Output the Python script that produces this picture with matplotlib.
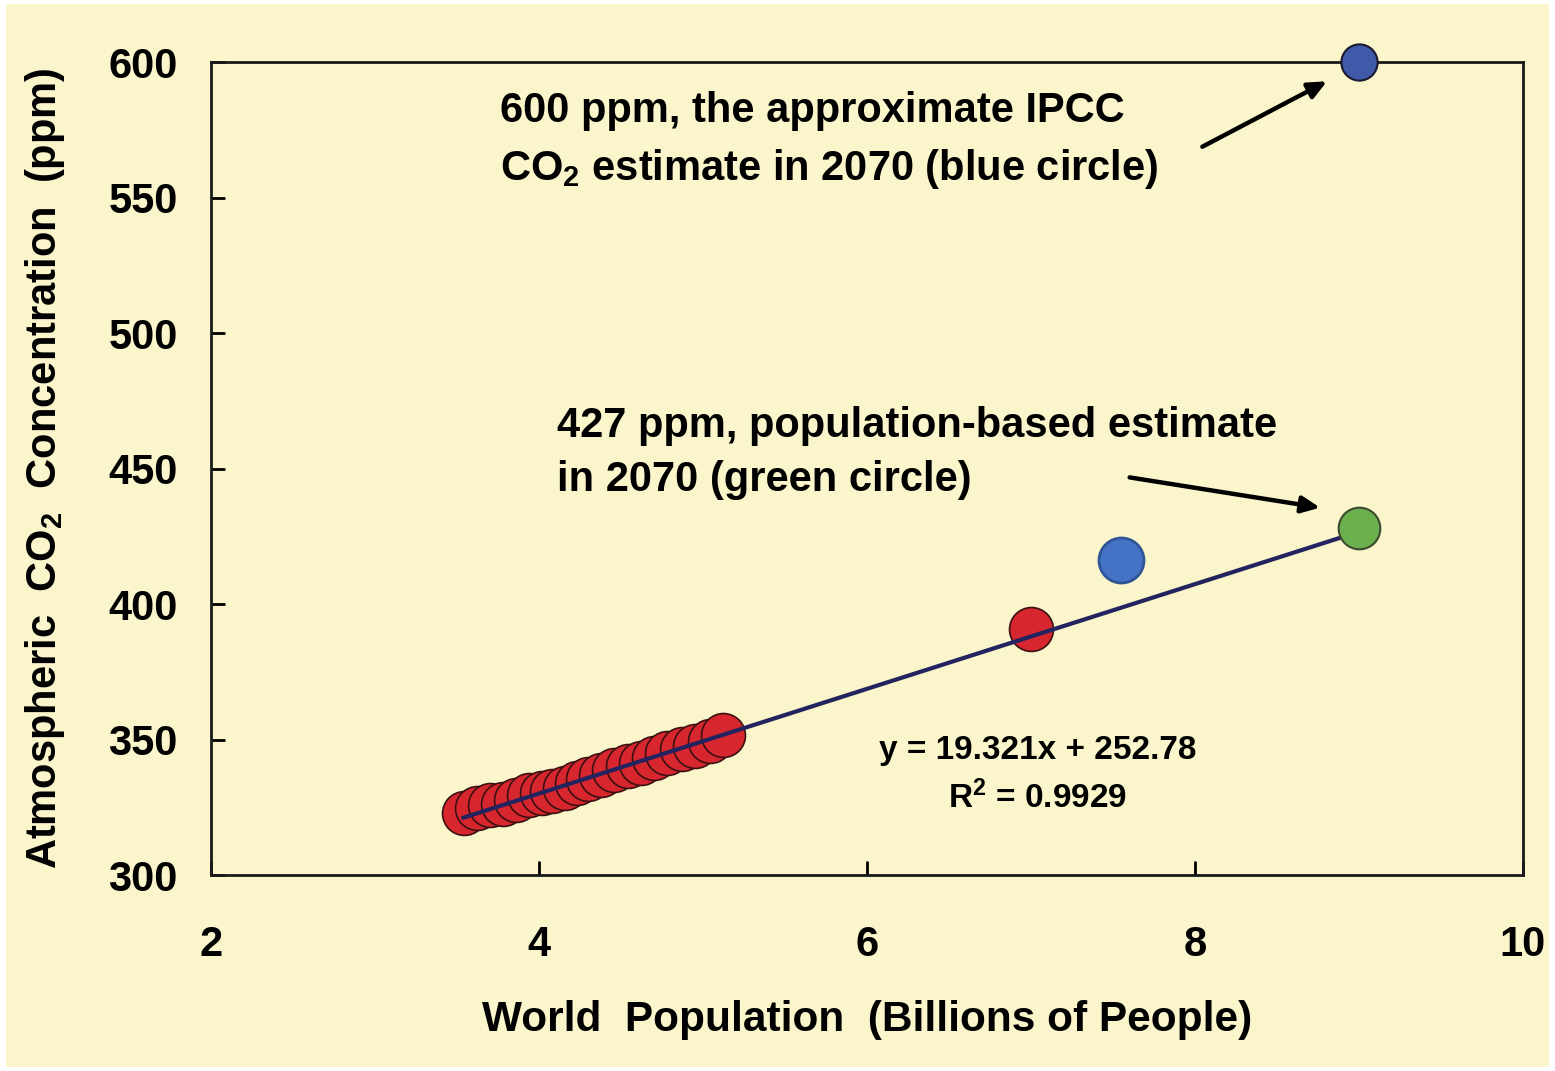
import matplotlib
matplotlib.use("Agg")
import matplotlib.pyplot as plt
from matplotlib.patches import Rectangle
import numpy as np

plt.rcParams["font.family"] = ["Liberation Sans", "DejaVu Sans"]
plt.rcParams["font.weight"] = "bold"
plt.rcParams["mathtext.fontset"] = "custom"
plt.rcParams["mathtext.rm"] = "Liberation Sans:bold"
plt.rcParams["mathtext.bf"] = "Liberation Sans:bold"
plt.rcParams["mathtext.it"] = "Liberation Sans:bold"

# observed data (population in billions, CO2 in ppm), 1968-1988
pop_obs = [3.54, 3.62, 3.70, 3.78, 3.86, 3.94, 4.02, 4.08, 4.16, 4.23, 4.30,
           4.38, 4.46, 4.54, 4.62, 4.70, 4.78, 4.87, 4.95, 5.04, 5.12]
co2_obs = [323.0, 324.6, 325.7, 326.3, 327.5, 329.7, 330.2, 331.1, 332.0, 333.8, 335.4,
           336.8, 338.8, 340.1, 341.5, 343.2, 344.9, 346.4, 347.6, 349.3, 351.7]

# recent point (red), recent actual (blue), projections for 2070
pop_recent, co2_recent = 7.0, 390.9
pop_blue, co2_blue = 7.55, 416.2
pop_green, co2_green = 9.0, 428.0
pop_ipcc, co2_ipcc = 9.0, 600.0

slope, intercept = 19.321, 252.78

CREAM = "#FAF5CB"

fig = plt.figure(figsize=(15.55, 10.71), dpi=100)
fig.patch.set_facecolor("white")
fig.patches.append(Rectangle((0.004, 0.004), 0.992, 0.992, transform=fig.transFigure,
                             facecolor=CREAM, edgecolor="none", zorder=-10))
ax = fig.add_axes([0.1357, 0.183, 0.8437, 0.759])
ax.set_facecolor(CREAM)

ax.scatter(pop_obs, co2_obs, s=1000, color="#D7262E", edgecolor="#3a1010", linewidth=1.2, zorder=2)
ax.scatter([pop_recent], [co2_recent], s=1000, color="#D7262E", edgecolor="#3a1010", linewidth=1.2, zorder=2)

fx = np.array([min(pop_obs), pop_green])
ax.plot(fx, slope * fx + intercept, color="#23235F", linewidth=3, zorder=3)

ax.scatter([pop_blue], [co2_blue], s=1050, color="#4472C4", edgecolor="#2F5597", linewidth=2, zorder=4)
ax.scatter([pop_green], [co2_green], s=900, color="#6AB04C", edgecolor="#3d4a30", linewidth=1.5, zorder=4)
ax.scatter([pop_ipcc], [co2_ipcc], s=680, color="#3F5AA8", edgecolor="#1a1a30", linewidth=1.5,
           zorder=5, clip_on=False)

ax.set_xlim(2, 10)
ax.set_ylim(300, 600)
ax.set_xticks([2, 4, 6, 8, 10])
ax.set_yticks(range(300, 601, 50))
ax.tick_params(direction="in", length=10, width=2, labelsize=30)
ax.tick_params(axis="x", pad=36)
ax.tick_params(axis="y", pad=24)
for sp in ax.spines.values():
    sp.set_linewidth(2)
    sp.set_color("#1a1a1a")

ax.set_xlabel("World  Population  (Billions of People)", fontsize=30.5, fontweight="bold", labelpad=25)
ax.set_ylabel("Atmospheric  CO$_2$  Concentration  (ppm)", fontsize=30, fontweight="bold", labelpad=30)

ax.text(3.76, 582, "600 ppm, the approximate IPCC", fontsize=30, fontweight="bold", va="center")
ax.text(3.76, 560.5, "CO$_2$ estimate in 2070 (blue circle)", fontsize=30, fontweight="bold", va="center")
ax.annotate("", xy=(8.82, 593.4), xytext=(8.03, 568.3),
            arrowprops=dict(arrowstyle="-|>,head_length=1.1,head_width=0.5", color="black", lw=3.2))

ax.text(4.11, 465.8, "427 ppm, population-based estimate", fontsize=30, fontweight="bold", va="center")
ax.text(4.11, 445.9, "in 2070 (green circle)", fontsize=30, fontweight="bold", va="center")
ax.annotate("", xy=(8.78, 435.4), xytext=(7.585, 446.9),
            arrowprops=dict(arrowstyle="-|>,head_length=1.1,head_width=0.5", color="black", lw=3.2))

ax.text(7.04, 346.1, f"y = {slope}x + {intercept}", fontsize=24, fontweight="bold",
        ha="center", va="center")
ax.text(7.04, 328.4, "R$^2$ = 0.9929", fontsize=24, fontweight="bold", ha="center", va="center")

fig.savefig("out.png", dpi=100, facecolor=fig.get_facecolor())
